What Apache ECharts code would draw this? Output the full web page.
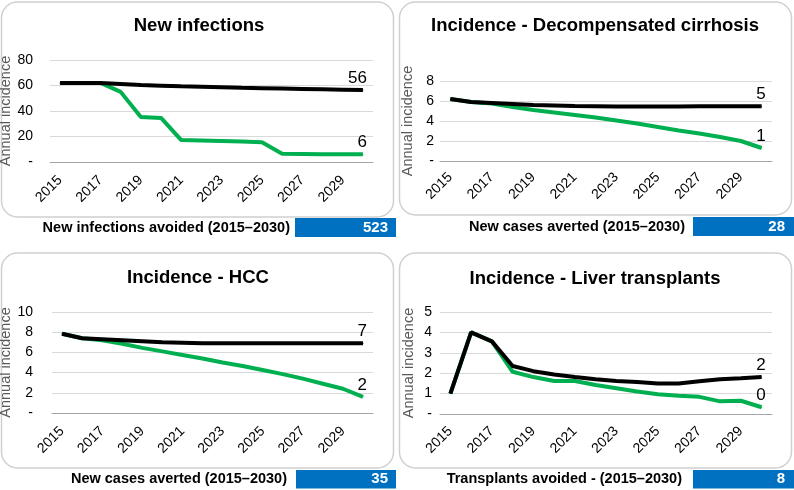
<!DOCTYPE html>
<html><head><meta charset="utf-8">
<script src="https://cdn.jsdelivr.net/npm/echarts@6/dist/echarts.min.js"></script>
<style>html,body{margin:0;padding:0;background:#fff}#c{width:794px;height:490px}</style>
</head><body><div id="c"></div>
<script>
const years = ['2015','2016','2017','2018','2019','2020','2021','2022','2023','2024','2025','2026','2027','2028','2029','2030'];
const titles = ['New infections', 'Incidence - Decompensated cirrhosis', 'Incidence - HCC', 'Incidence - Liver transplants'];
const yAxisName = 'Annual incidence';

const infectionsBase = [62, 62, 62, 61.2, 60.4, 59.9, 59.4, 59, 58.6, 58.2, 57.9, 57.6, 57.3, 57, 56.7, 56.4];
const infectionsInt  = [62, 62, 62, 55, 35.2, 34.6, 17.2, 16.8, 16.4, 16, 15.4, 6.5, 6.3, 6.1, 6, 6];

const cirrhosisBase = [6.2, 5.9, 5.8, 5.7, 5.6, 5.55, 5.5, 5.48, 5.45, 5.45, 5.45, 5.45, 5.47, 5.47, 5.47, 5.47];
const cirrhosisInt  = [6.2, 5.9, 5.75, 5.4, 5.1, 4.85, 4.6, 4.35, 4.05, 3.75, 3.4, 3.05, 2.75, 2.4, 2.0, 1.3];

const hccBase = [7.85, 7.4, 7.3, 7.2, 7.1, 7.0, 6.95, 6.9, 6.9, 6.9, 6.9, 6.9, 6.9, 6.9, 6.9, 6.9];
const hccInt  = [7.85, 7.4, 7.2, 6.85, 6.45, 6.1, 5.75, 5.4, 5.0, 4.65, 4.25, 3.85, 3.4, 2.9, 2.4, 1.6];

const transplantBase = [1.0, 4.0, 3.56, 2.35, 2.1, 1.94, 1.81, 1.7, 1.62, 1.57, 1.49, 1.5, 1.6, 1.7, 1.75, 1.81];
const transplantInt  = [1.0, 4.0, 3.56, 2.07, 1.81, 1.62, 1.62, 1.42, 1.26, 1.1, 0.97, 0.89, 0.84, 0.62, 0.65, 0.33];

const yMax  = [80, 8, 10, 5];
const yStep = [20, 2, 2, 1];

const avoidedLabels = ['New infections avoided (2015–2030)', 'New cases averted (2015–2030)', 'New cases averted (2015–2030)', 'Transplants avoided - (2015–2030)'];
const avoidedValues = [523, 28, 35, 8];

const baseSeries = [infectionsBase, cirrhosisBase, hccBase, transplantBase];
const intSeries  = [infectionsInt, cirrhosisInt, hccInt, transplantInt];

// layout
const FONT = '"Liberation Sans", Arial, sans-serif';
const grids = [
  {left: 50, top: 60, width: 323, height: 102},
  {left: 440, top: 81, width: 332, height: 80},
  {left: 52, top: 312, width: 321, height: 101},
  {left: 440, top: 312, width: 332, height: 102}
];
const labelMargin = [17, 6, 19, 8];
const nameGaps = [31, 25, 30, 24];
const xLabelMargin = [16, 14, 16, 15];
const panels = [
  {x: 1.5, y: 2, w: 392, h: 215},
  {x: 399.5, y: 2, w: 392, h: 213},
  {x: 1.5, y: 253, w: 392, h: 215},
  {x: 399.5, y: 253, w: 392, h: 215}
];
const titlePos = [[199, 26], [595, 26], [198, 278], [595, 279]];
const footer = [
  {tx: 290, ty: 228, rx: 295, ry: 218, rw: 101, rh: 19, nx: 388},
  {tx: 685, ty: 227, rx: 693, ry: 217, rw: 101, rh: 19, nx: 785},
  {tx: 287, ty: 479, rx: 296, ry: 470, rw: 100, rh: 18.5, nx: 388},
  {tx: 682, ty: 479, rx: 693, ry: 470, rw: 101, rh: 18.5, nx: 785}
];

const last = years.length - 1;
const GREEN = '#00B050';

const xAxes = [], yAxes = [], series = [], graphic = [];
for (let i = 0; i < 4; i++) {
  xAxes.push({
    type: 'category', gridIndex: i, data: years, boundaryGap: true,
    axisLine: {lineStyle: {color: '#a6a6a6', width: 1}},
    axisTick: {interval: 1, length: 4, lineStyle: {color: '#a6a6a6'}},
    axisLabel: {interval: 1, rotate: 45, fontSize: 14, color: '#000', margin: xLabelMargin[i], fontFamily: FONT}
  });
  yAxes.push({
    type: 'value', gridIndex: i, min: 0, max: yMax[i], interval: yStep[i],
    axisLine: {show: false}, axisTick: {show: false},
    splitLine: {lineStyle: {color: '#d9d9d9', width: 1}},
    axisLabel: {fontSize: 14, color: '#000', margin: labelMargin[i], fontFamily: FONT,
      formatter: v => v === 0 ? '-' : String(v)},
    name: yAxisName, nameLocation: 'middle', nameGap: nameGaps[i],
    nameTextStyle: {fontSize: 14.5, color: '#595959', fontFamily: FONT}
  });
  const mk = (data, color, z) => ({
    type: 'line', xAxisIndex: i, yAxisIndex: i, data: data, z: z,
    symbol: 'circle', symbolSize: 1, showSymbol: true, showAllSymbol: true,
    itemStyle: {color: color}, lineStyle: {color: color, width: 4},
    animation: false,
    label: {show: true, position: 'top', distance: 3, align: 'right', offset: [4, 0],
      fontSize: 17, color: '#000', fontFamily: FONT,
      formatter: p => p.dataIndex === last ? String(Math.round(p.value)) : ''}
  });
  series.push(mk(intSeries[i], GREEN, 2));
  series.push(mk(baseSeries[i], '#000000', 3));

  const p = panels[i];
  graphic.push({type: 'rect', z: -10, shape: {x: p.x, y: p.y, width: p.w, height: p.h, r: 16},
    style: {fill: 'rgba(0,0,0,0)', stroke: '#d0d0d0', lineWidth: 1.5}});
  graphic.push({type: 'text', x: titlePos[i][0], y: titlePos[i][1],
    style: {text: titles[i], fontSize: 18.5, fontWeight: 'bold', fontFamily: FONT, fill: '#000',
      align: 'center', verticalAlign: 'middle'}});
  const f = footer[i];
  graphic.push({type: 'text', x: f.tx, y: f.ty,
    style: {text: avoidedLabels[i], fontSize: 14.5, fontWeight: 'bold', fontFamily: FONT, fill: '#000',
      align: 'right', verticalAlign: 'middle'}});
  graphic.push({type: 'rect', shape: {x: f.rx, y: f.ry, width: f.rw, height: f.rh},
    style: {fill: '#0070C0'}});
  graphic.push({type: 'text', x: f.nx, y: f.ry + f.rh / 2, z: 10,
    style: {text: String(avoidedValues[i]), fontSize: 15, fontWeight: 'bold', fontFamily: FONT, fill: '#fff',
      align: 'right', verticalAlign: 'middle'}});
}

const chart = echarts.init(document.getElementById('c'), null, {renderer: 'canvas'});
chart.setOption({
  animation: false,
  textStyle: {fontFamily: FONT},
  grid: grids.map(g => Object.assign({containLabel: false, outerBoundsMode: 'none'}, g)),
  xAxis: xAxes, yAxis: yAxes, series: series, graphic: graphic
});
</script></body></html>
